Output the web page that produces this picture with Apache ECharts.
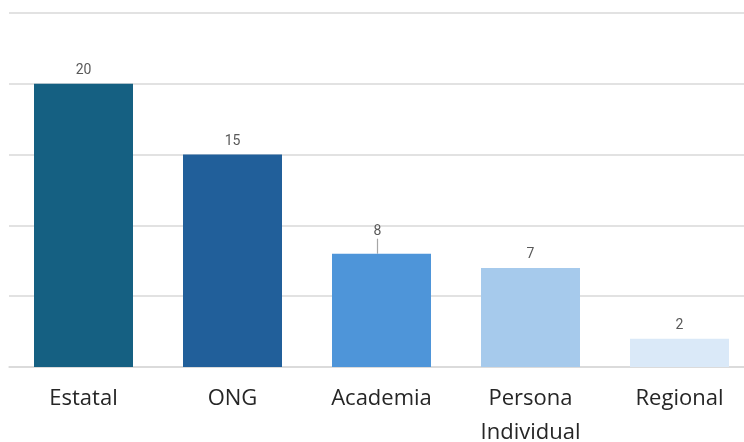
<!DOCTYPE html>
<html>
<head>
<meta charset="utf-8">
<script src="https://cdn.jsdelivr.net/npm/echarts@6/dist/echarts.min.js"></script>
<style>html,body{margin:0;padding:0;background:#fff;}#c{width:744px;height:442px;}</style>
</head>
<body>
<div id="c"></div>
<script>
const categories = ['Estatal', 'ONG', 'Academia', 'Persona\nIndividual', 'Regional'];
const values = [20, 15, 8, 7, 2];
const colors = ['#156082', '#215f9a', '#4e95d9', '#a6caec', '#dae9f8'];

const chart = echarts.init(document.getElementById('c'));
chart.setOption({
  animation: false,
  grid: { left: 9, right: -10, top: 13, bottom: 75, outerBoundsMode: 'none', containLabel: false },
  xAxis: {
    type: 'category',
    data: categories,
    axisTick: { show: false },
    axisLine: { lineStyle: { color: '#d9d9d9', width: 1.5 } },
    axisLabel: { color: '#262626', fontSize: 22, fontFamily: 'Open Sans', margin: 15, lineHeight: 34, interval: 0 }
  },
  yAxis: {
    type: 'value', min: 0, max: 25, interval: 5,
    axisLabel: { show: false },
    axisLine: { show: false },
    axisTick: { show: false },
    splitLine: { lineStyle: { color: '#d9d9d9', width: 1.5 } }
  },
  series: [{
    type: 'bar',
    barWidth: 99,
    data: values.map((v, i) => ({
      value: v,
      itemStyle: { color: colors[i] },
      labelLine: { show: i === 2, lineStyle: { color: '#a6a6a6', width: 1.2 } }
    })),
    label: { show: true, position: 'top', distance: 6, color: '#595959', fontSize: 14, fontFamily: 'Roboto' },
    labelLayout: function (p) {
      if (p.dataIndex === 2) return { dy: -9, dx: -4 };
      return {};
    }
  }]
});
</script>
</body>
</html>
